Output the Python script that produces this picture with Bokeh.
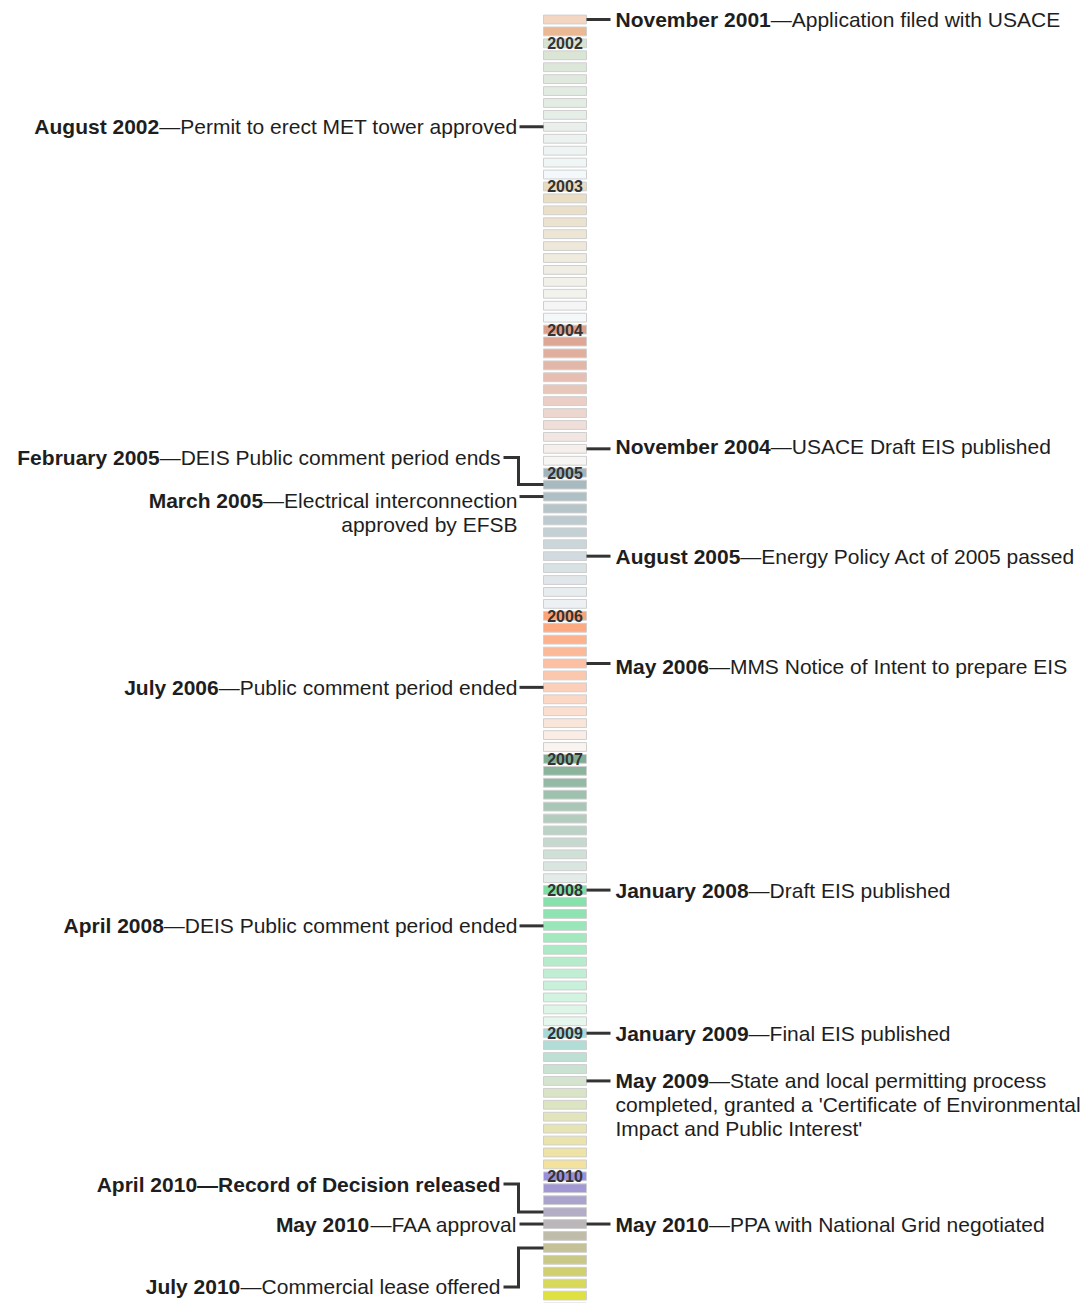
from bokeh.plotting import figure
from bokeh.models import Range1d, ColumnDataSource
from bokeh.embed import file_html
from bokeh.resources import INLINE
from bokeh.core.properties import value

# ---------------- data ----------------
years = [2001, 2002, 2003, 2004, 2005, 2006, 2007, 2008, 2009, 2010]
first_month = [11, 1, 1, 1, 1, 1, 1, 1, 1, 1]
months_shown = [2, 12, 12, 12, 12, 12, 11, 12, 12, 12]

event_dates = ["2001-11", "2002-08", "2004-11", "2005-02", "2005-03", "2005-08",
               "2006-05", "2006-07", "2008-01", "2008-04", "2009-01", "2009-05",
               "2010-04", "2010-05", "2010-05", "2010-07"]
event_sides = ["right", "left", "right", "left", "left", "right",
               "right", "left", "right", "left", "right", "right",
               "left", "left", "right", "left"]
event_titles = ["November 2001", "August 2002", "November 2004", "February 2005",
                "March 2005", "August 2005", "May 2006", "July 2006",
                "January 2008", "April 2008", "January 2009", "May 2009",
                "April 2010", "May 2010", "May 2010", "July 2010"]
event_texts = ["Application filed with USACE",
               "Permit to erect MET tower approved",
               "USACE Draft EIS published",
               "DEIS Public comment period ends",
               "Electrical interconnection\napproved by EFSB",
               "Energy Policy Act of 2005 passed",
               "MMS Notice of Intent to prepare EIS",
               "Public comment period ended",
               "Draft EIS published",
               "DEIS Public comment period ended",
               "Final EIS published",
               "State and local permitting process\ncompleted, granted a 'Certificate of Environmental\nImpact and Public Interest'",
               "Record of Decision released",
               "FAA approval",
               "PPA with National Grid negotiated",
               "Commercial lease offered"]
event_text_bold = [False] * 12 + [True, False, False, False]

# ---------------- style / layout ----------------
label_shift_px = [0, 0, -2, -27, 4, 0, 3, 0, 0, 0, 0, 0, -28, 0, 0, 39]

year_color_stops = {
    2001: ["#f3d6c2", "#eab893"],
    2002: ["#d7e3d2", "#f3f8fa"],
    2003: ["#e8dbbf", "#f5f8f9"],
    2004: ["#dc9f8b", "#f7f6f5"],
    2005: ["#9fb5bb", "#eef1f3"],
    2006: ["#fca377", "#faf4f1"],
    2007: ["#80ae94", "#e3ece8"],
    2008: ["#7cdfa4", "#e6f7ee"],
    2009: ["#a6dad8", "#d2e4d0", "#e4e4b8", "#f2e29e"],
    2010: ["#9a8fdc", "#b8b4c0", "#ccca80", "#e6ea2c"],
}

W, H = 1081, 1303
PPR = 11.926          # pixels per month row
TOP_PX = 19.0         # y of first row
FS = 21               # annotation font size (px)
LH = 24               # line height (px)
BAR_X0, BAR_X1 = 543, 586
BAR_CX = (BAR_X0 + BAR_X1) / 2
R_LINE = (586, 610)
R_TEXT = 615
L_TEXT = 517
L_TEXT_ELBOW = 500
ELBOW_X = 518
TXT_COLOR = "#1e1e1e"
LINE_COLOR = "#333333"
FONT = "Liberation Sans"

# Arial / Liberation Sans advance widths (1/1000 em), chars 32..126
_REG = [278, 278, 355, 556, 556, 889, 667, 191, 333, 333, 389, 584, 278, 333, 278, 278,
        556, 556, 556, 556, 556, 556, 556, 556, 556, 556, 278, 278, 584, 584, 584, 556,
        1015, 667, 667, 722, 722, 667, 611, 778, 722, 278, 500, 667, 556, 833, 722, 778,
        667, 778, 722, 667, 611, 722, 667, 944, 667, 667, 611, 278, 278, 278, 469, 556,
        333, 556, 556, 500, 556, 556, 278, 556, 556, 222, 222, 500, 222, 833, 556, 556,
        556, 556, 333, 500, 278, 556, 500, 722, 500, 500, 500, 334, 260, 334, 584]
_BOLD = [278, 333, 474, 556, 556, 889, 722, 238, 333, 333, 389, 584, 278, 333, 278, 278,
         556, 556, 556, 556, 556, 556, 556, 556, 556, 556, 333, 333, 584, 584, 584, 611,
         975, 722, 722, 722, 722, 667, 611, 778, 722, 278, 556, 722, 611, 833, 722, 778,
         667, 778, 722, 667, 611, 722, 667, 944, 667, 667, 611, 333, 278, 333, 584, 556,
         333, 556, 611, 556, 611, 556, 333, 611, 611, 278, 278, 556, 278, 889, 611, 611,
         611, 611, 389, 556, 333, 611, 556, 778, 556, 556, 500, 389, 280, 389, 584]


def text_width(s, bold, size=FS):
    table = _BOLD if bold else _REG
    tot = 0
    for ch in s:
        o = ord(ch)
        if 32 <= o <= 126:
            tot += table[o - 32]
        elif ch == "\u2014":
            tot += 1000
        else:
            tot += 556
    return tot * size / 1000.0


def hex2rgb(h):
    h = h.lstrip("#")
    return [int(h[i:i + 2], 16) for i in (0, 2, 4)]


def blend(stops, t):
    n = len(stops) - 1
    if n == 0:
        return stops[0]
    pos = t * n
    k = min(int(pos), n - 1)
    f = pos - k
    a, b = hex2rgb(stops[k]), hex2rgb(stops[k + 1])
    c = [round(a[j] + (b[j] - a[j]) * f) for j in range(3)]
    return "#%02x%02x%02x" % tuple(c)


# ---------------- build month rows ----------------
bar_y, bar_color, row_of = [], [], {}
yl_x, yl_y, yl_text = [], [], []
r = 0
for yr, fm, n in zip(years, first_month, months_shown):
    stops = year_color_stops[yr]
    for k in range(n):
        m = fm + k
        row_of["%d-%02d" % (yr, m)] = r
        bar_y.append(r)
        bar_color.append(blend(stops, k / (n - 1) if n > 1 else 0))
        if m == 1:
            yl_x.append(BAR_CX)
            yl_y.append(r)
            yl_text.append(str(yr))
        r += 1

top = -TOP_PX / PPR
bottom = top + H / PPR

p = figure(width=W, height=H, x_range=Range1d(0, W), y_range=Range1d(bottom, top),
           output_backend="svg", toolbar_location=None, min_border=0,
           x_axis_type=None, y_axis_type=None, outline_line_color=None,
           background_fill_color="white", border_fill_color="white")
p.grid.visible = False

bars = ColumnDataSource(dict(x=[BAR_CX] * len(bar_y), y=bar_y, color=bar_color))
p.rect(x="x", y="y", width=BAR_X1 - BAR_X0, height=0.74, source=bars,
       fill_color="color", line_color="#cfcfcf", line_width=1)

p.text(x=yl_x, y=yl_y, text=yl_text, text_font=value(FONT), text_font_style="bold",
       text_font_size="16px", text_color="#333333", text_align="center",
       text_baseline="middle")

# ---------------- annotations ----------------
bold_src = dict(x=[], y=[], text=[], align=[])
reg_src = dict(x=[], y=[], text=[], align=[])
line_xs, line_ys = [], []


def put(dst, x, y, t, a):
    dst["x"].append(x)
    dst["y"].append(y)
    dst["text"].append(t)
    dst["align"].append(a)


for date, side, title, txt, allbold, shift in zip(event_dates, event_sides, event_titles,
                                                  event_texts, event_text_bold, label_shift_px):
    row = row_of[date]
    elbow = abs(shift) > 10
    ly = row + shift / PPR
    lines = txt.split("\n")
    first = "\u2014" + lines[0]
    first_dst = bold_src if allbold else reg_src
    if side == "right":
        put(bold_src, R_TEXT, ly, title, "left")
        put(first_dst, R_TEXT + text_width(title, True), ly, first, "left")
        for k, ln in enumerate(lines[1:], start=1):
            put(reg_src, R_TEXT, ly + k * LH / PPR, ln, "left")
        line_xs.append([R_LINE[0], R_LINE[1]])
        line_ys.append([row, row])
    else:
        xe = L_TEXT_ELBOW if elbow else L_TEXT
        wf = text_width(first, allbold)
        put(first_dst, xe, ly, first, "right")
        put(bold_src, xe - wf, ly, title, "right")
        for k, ln in enumerate(lines[1:], start=1):
            put(reg_src, xe, ly + k * LH / PPR, ln, "right")
        if elbow:
            line_xs.append([xe + 3, ELBOW_X, ELBOW_X, BAR_X0])
            line_ys.append([ly, ly, row, row])
        else:
            line_xs.append([xe + 2, BAR_X0])
            line_ys.append([row, row])

p.multi_line(xs=line_xs, ys=line_ys, line_color=LINE_COLOR, line_width=3,
             line_join="miter")

p.text(x="x", y="y", text="text", text_align="align", source=ColumnDataSource(bold_src),
       text_font=value(FONT), text_font_style="bold", text_font_size="%dpx" % FS,
       text_color=TXT_COLOR, text_baseline="middle")
p.text(x="x", y="y", text="text", text_align="align", source=ColumnDataSource(reg_src),
       text_font=value(FONT), text_font_style="normal", text_font_size="%dpx" % FS,
       text_color=TXT_COLOR, text_baseline="middle")

open("out.html", "w").write(file_html(p, INLINE))
